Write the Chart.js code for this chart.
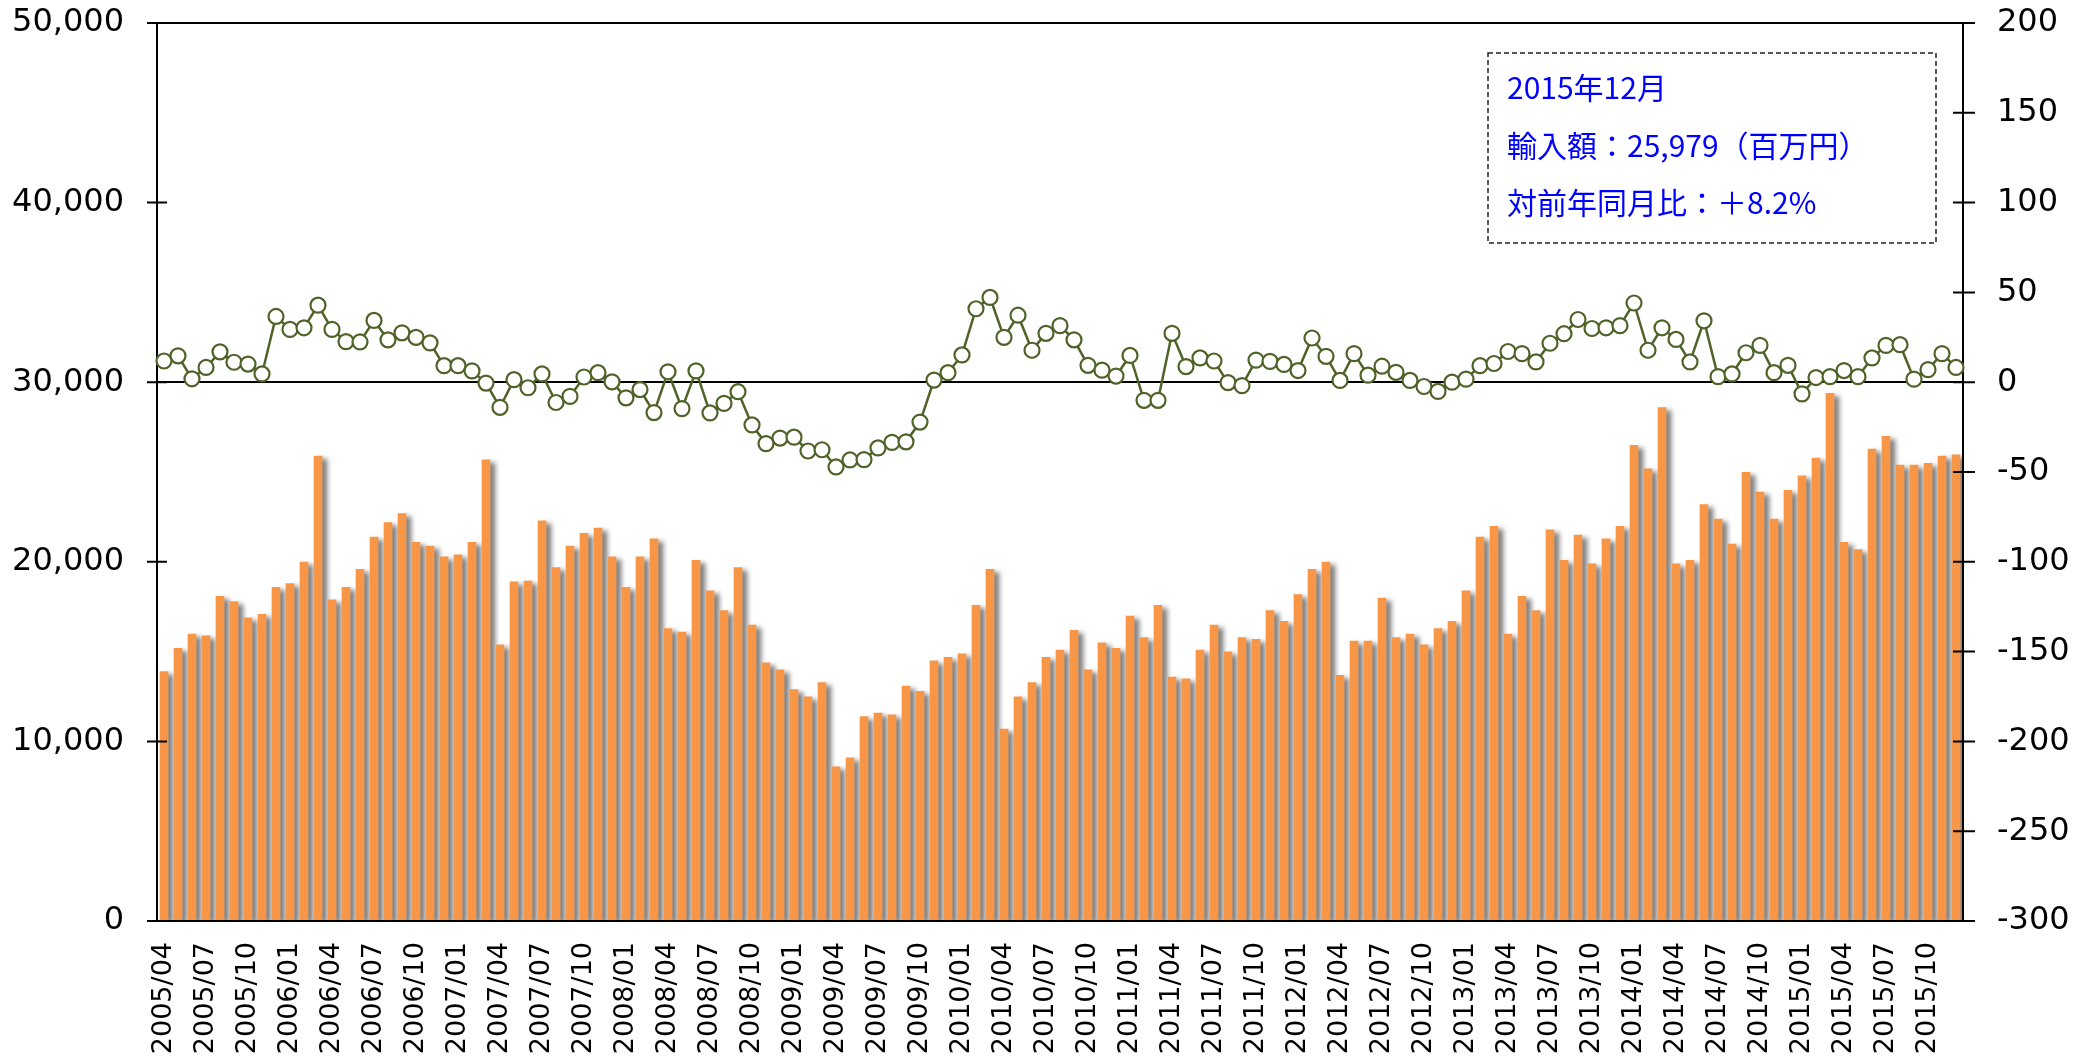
<!DOCTYPE html>
<html>
<head>
<meta charset="utf-8">
<script src="https://cdn.jsdelivr.net/npm/chart.js@4.4.1/dist/chart.umd.min.js"></script>
<style>
  body { margin: 0; background: #fff; }
  #wrap { position: relative; width: 2094px; height: 1060px; }
  #note {
    position: absolute; left: 1487px; top: 52px; width: 450px; height: 192px;
    box-sizing: border-box; padding: 6px 0 0 20px; color: #0000ff;
    font-family: 'Noto Sans CJK JP', sans-serif; font-size: 30px; line-height: 57.5px;
  }
  #note svg { position: absolute; left: 0; top: 0; }
</style>
</head>
<body>
<div id="wrap">
  <canvas id="chart" width="2094" height="1060"></canvas>
  <div id="note">
    <svg width="450" height="192"><rect x="1" y="1" width="448" height="190" fill="#fff" stroke="#222" stroke-width="1.5" stroke-dasharray="5 3"/></svg>
    <div style="position:relative">2015年12月</div>
    <div style="position:relative">輸入額：25,979（百万円）</div>
    <div style="position:relative">対前年同月比：＋8.2%</div>
  </div>
</div>
<script>
// 2005/04 - 2015/12
const months = [
  '2005/04','2005/05','2005/06','2005/07','2005/08','2005/09','2005/10','2005/11','2005/12',
  '2006/01','2006/02','2006/03','2006/04','2006/05','2006/06','2006/07','2006/08','2006/09','2006/10','2006/11','2006/12',
  '2007/01','2007/02','2007/03','2007/04','2007/05','2007/06','2007/07','2007/08','2007/09','2007/10','2007/11','2007/12',
  '2008/01','2008/02','2008/03','2008/04','2008/05','2008/06','2008/07','2008/08','2008/09','2008/10','2008/11','2008/12',
  '2009/01','2009/02','2009/03','2009/04','2009/05','2009/06','2009/07','2009/08','2009/09','2009/10','2009/11','2009/12',
  '2010/01','2010/02','2010/03','2010/04','2010/05','2010/06','2010/07','2010/08','2010/09','2010/10','2010/11','2010/12',
  '2011/01','2011/02','2011/03','2011/04','2011/05','2011/06','2011/07','2011/08','2011/09','2011/10','2011/11','2011/12',
  '2012/01','2012/02','2012/03','2012/04','2012/05','2012/06','2012/07','2012/08','2012/09','2012/10','2012/11','2012/12',
  '2013/01','2013/02','2013/03','2013/04','2013/05','2013/06','2013/07','2013/08','2013/09','2013/10','2013/11','2013/12',
  '2014/01','2014/02','2014/03','2014/04','2014/05','2014/06','2014/07','2014/08','2014/09','2014/10','2014/11','2014/12',
  '2015/01','2015/02','2015/03','2015/04','2015/05','2015/06','2015/07','2015/08','2015/09','2015/10','2015/11','2015/12'
];

// 輸入額（百万円）
const imports = [
  13900, 15200, 16000, 15900, 18100, 17800, 16900, 17100, 18600, 18800, 20000, 25900,
  17900, 18600, 19600, 21400, 22200, 22700, 21100, 20900, 20300, 20400, 21100, 25700,
  15400, 18900, 18950, 22300, 19700, 20900, 21600, 21900, 20300, 18600, 20300, 21300,
  16300, 16100, 20100, 18400, 17300, 19700, 16500, 14400, 14000, 12900, 12500, 13300,
  8600, 9100, 11400, 11600, 11500, 13100, 12800, 14500, 14700, 14900, 17600, 19600,
  10700, 12500, 13300, 14700, 15100, 16200, 14000, 15500, 15200, 17000, 15800, 17600,
  13600, 13500, 15100, 16500, 15000, 15800, 15700, 17300, 16700, 18200, 19600, 20000,
  13700, 15600, 15600, 18000, 15800, 16000, 15400, 16300, 16700, 18400, 21400, 22000,
  16000, 18100, 17300, 21800, 20100, 21500, 19900, 21300, 22000, 26500, 25200, 28600,
  19900, 20100, 23200, 22400, 21000, 25000, 23900, 22400, 24000, 24800, 25800, 29400,
  21100, 20700, 26300, 27000, 25400, 25400, 25500, 25900, 25979
];

// 対前年同月比（%）
const yoy = [
  11.8, 14.7, 1.9, 8.2, 16.9, 11.1, 10.1, 4.6, 36.6, 29.4, 30.3, 42.9,
  29.4, 22.6, 22.4, 34.4, 23.6, 27.5, 25.0, 21.9, 9.2, 9.2, 6.3, -0.5,
  -14.0, 1.4, -3.1, 4.6, -11.3, -7.9, 2.9, 5.3, 0.2, -8.7, -4.1, -16.9,
  5.8, -14.7, 6.3, -17.1, -11.8, -5.3, -23.8, -34.2, -31.1, -30.6, -38.3, -37.6,
  -47.2, -43.3, -43.1, -36.6, -33.5, -33.2, -22.2, 1.2, 5.3, 15.2, 40.9, 47.2,
  25.0, 37.3, 17.8, 27.2, 31.5, 23.6, 9.4, 6.7, 3.4, 14.9, -10.1, -10.1,
  27.2, 8.7, 13.5, 11.8, -0.2, -1.9, 12.3, 11.6, 9.9, 6.5, 24.6, 14.4,
  1.0, 15.9, 3.9, 8.9, 5.5, 1.0, -2.4, -5.1, 0.0, 1.7, 9.2, 10.4,
  17.1, 15.9, 11.3, 21.7, 27.0, 34.9, 29.9, 30.3, 31.5, 44.1, 17.8, 30.3,
  23.8, 11.3, 34.2, 3.1, 4.6, 16.4, 20.5, 5.3, 9.4, -6.5, 2.6, 3.1,
  6.5, 3.1, 13.5, 20.5, 20.9, 1.7, 7.0, 15.9, 8.2
];

const leftTicks = {min: 0, max: 50000, step: 10000};
const rightTicks = {min: -300, max: 200, step: 50};

// soft grey shadow behind the bars
const barShadow = {
  id: 'barShadow',
  beforeDatasetDraw(chart, args) {
    if (args.index !== 0) return;
    const c = chart.ctx;
    c.save();
    c.shadowColor = 'rgba(0,0,0,0.5)';
    c.shadowBlur = 5;
    c.shadowOffsetX = 5;
    c.shadowOffsetY = 3;
  },
  afterDatasetDraw(chart, args) {
    if (args.index === 0) chart.ctx.restore();
  }
};

// tick marks that cross the axis lines
const crossTicks = {
  id: 'crossTicks',
  afterDraw(chart) {
    const c = chart.ctx;
    const y = chart.scales.y, y1 = chart.scales.y1;
    c.save();
    c.strokeStyle = '#000';
    c.lineWidth = 2;
    c.beginPath();
    y.ticks.forEach(t => {
      const p = y.getPixelForValue(t.value);
      c.moveTo(y.right - 10, p); c.lineTo(y.right + 10, p);
    });
    y1.ticks.forEach(t => {
      const p = y1.getPixelForValue(t.value);
      c.moveTo(y1.left - 10, p); c.lineTo(y1.left + 12, p);
    });
    c.stroke();
    c.restore();
  }
};

function noPad(s) {
  s.paddingTop = 0; s.paddingBottom = 0; s.paddingLeft = 0; s.paddingRight = 0;
}

Chart.defaults.font.family = "'DejaVu Sans', sans-serif";
Chart.defaults.color = '#000';

new Chart(document.getElementById('chart'), {
  data: {
    labels: months,
    datasets: [{
      type: 'bar',
      label: '輸入額',
      data: imports,
      yAxisID: 'y',
      backgroundColor: '#F79646',
      barPercentage: 0.62,
      categoryPercentage: 1.0,
      order: 2
    }, {
      type: 'line',
      label: '対前年同月比',
      data: yoy,
      yAxisID: 'y1',
      borderColor: '#4F6228',
      borderWidth: 2.5,
      tension: 0,
      pointRadius: 7.5,
      pointBorderWidth: 2.2,
      pointBackgroundColor: '#fff',
      pointBorderColor: '#4F6228',
      order: 1
    }]
  },
  options: {
    responsive: false,
    devicePixelRatio: 1,
    animation: false,
    layout: {padding: {top: 23, left: 0, right: 0, bottom: 0}},
    plugins: {
      legend: {display: false},
      tooltip: {enabled: false}
    },
    scales: {
      x: {
        offset: true,
        grid: {display: false, drawTicks: false},
        border: {display: true, color: '#000', width: 2},
        ticks: {
          autoSkip: false,
          minRotation: 90,
          maxRotation: 90,
          padding: 21,
          font: {size: 27},
          callback: function (v, i) { return i % 3 === 0 ? this.getLabelForValue(v) : null; }
        },
        afterFit: s => { s.height = 139; noPad(s); }
      },
      y: {
        position: 'left',
        min: leftTicks.min,
        max: leftTicks.max,
        grid: {
          drawTicks: false,
          lineWidth: 2,
          color: ctx => (ctx.tick && (ctx.tick.value === 30000 || ctx.tick.value === 50000)) ? '#000' : 'rgba(0,0,0,0)'
        },
        border: {display: true, color: '#000', width: 2},
        ticks: {
          stepSize: leftTicks.step,
          padding: 33,
          font: {size: 32},
          callback: v => v.toLocaleString('en-US')
        },
        afterFit: s => { s.width = 157; noPad(s); }
      },
      y1: {
        position: 'right',
        min: rightTicks.min,
        max: rightTicks.max,
        grid: {display: false, drawTicks: false},
        border: {display: true, color: '#000', width: 2},
        ticks: {
          stepSize: rightTicks.step,
          padding: 34,
          font: {size: 32}
        },
        afterFit: s => { s.width = 131; noPad(s); }
      }
    }
  },
  plugins: [barShadow, crossTicks]
});
</script>
</body>
</html>
